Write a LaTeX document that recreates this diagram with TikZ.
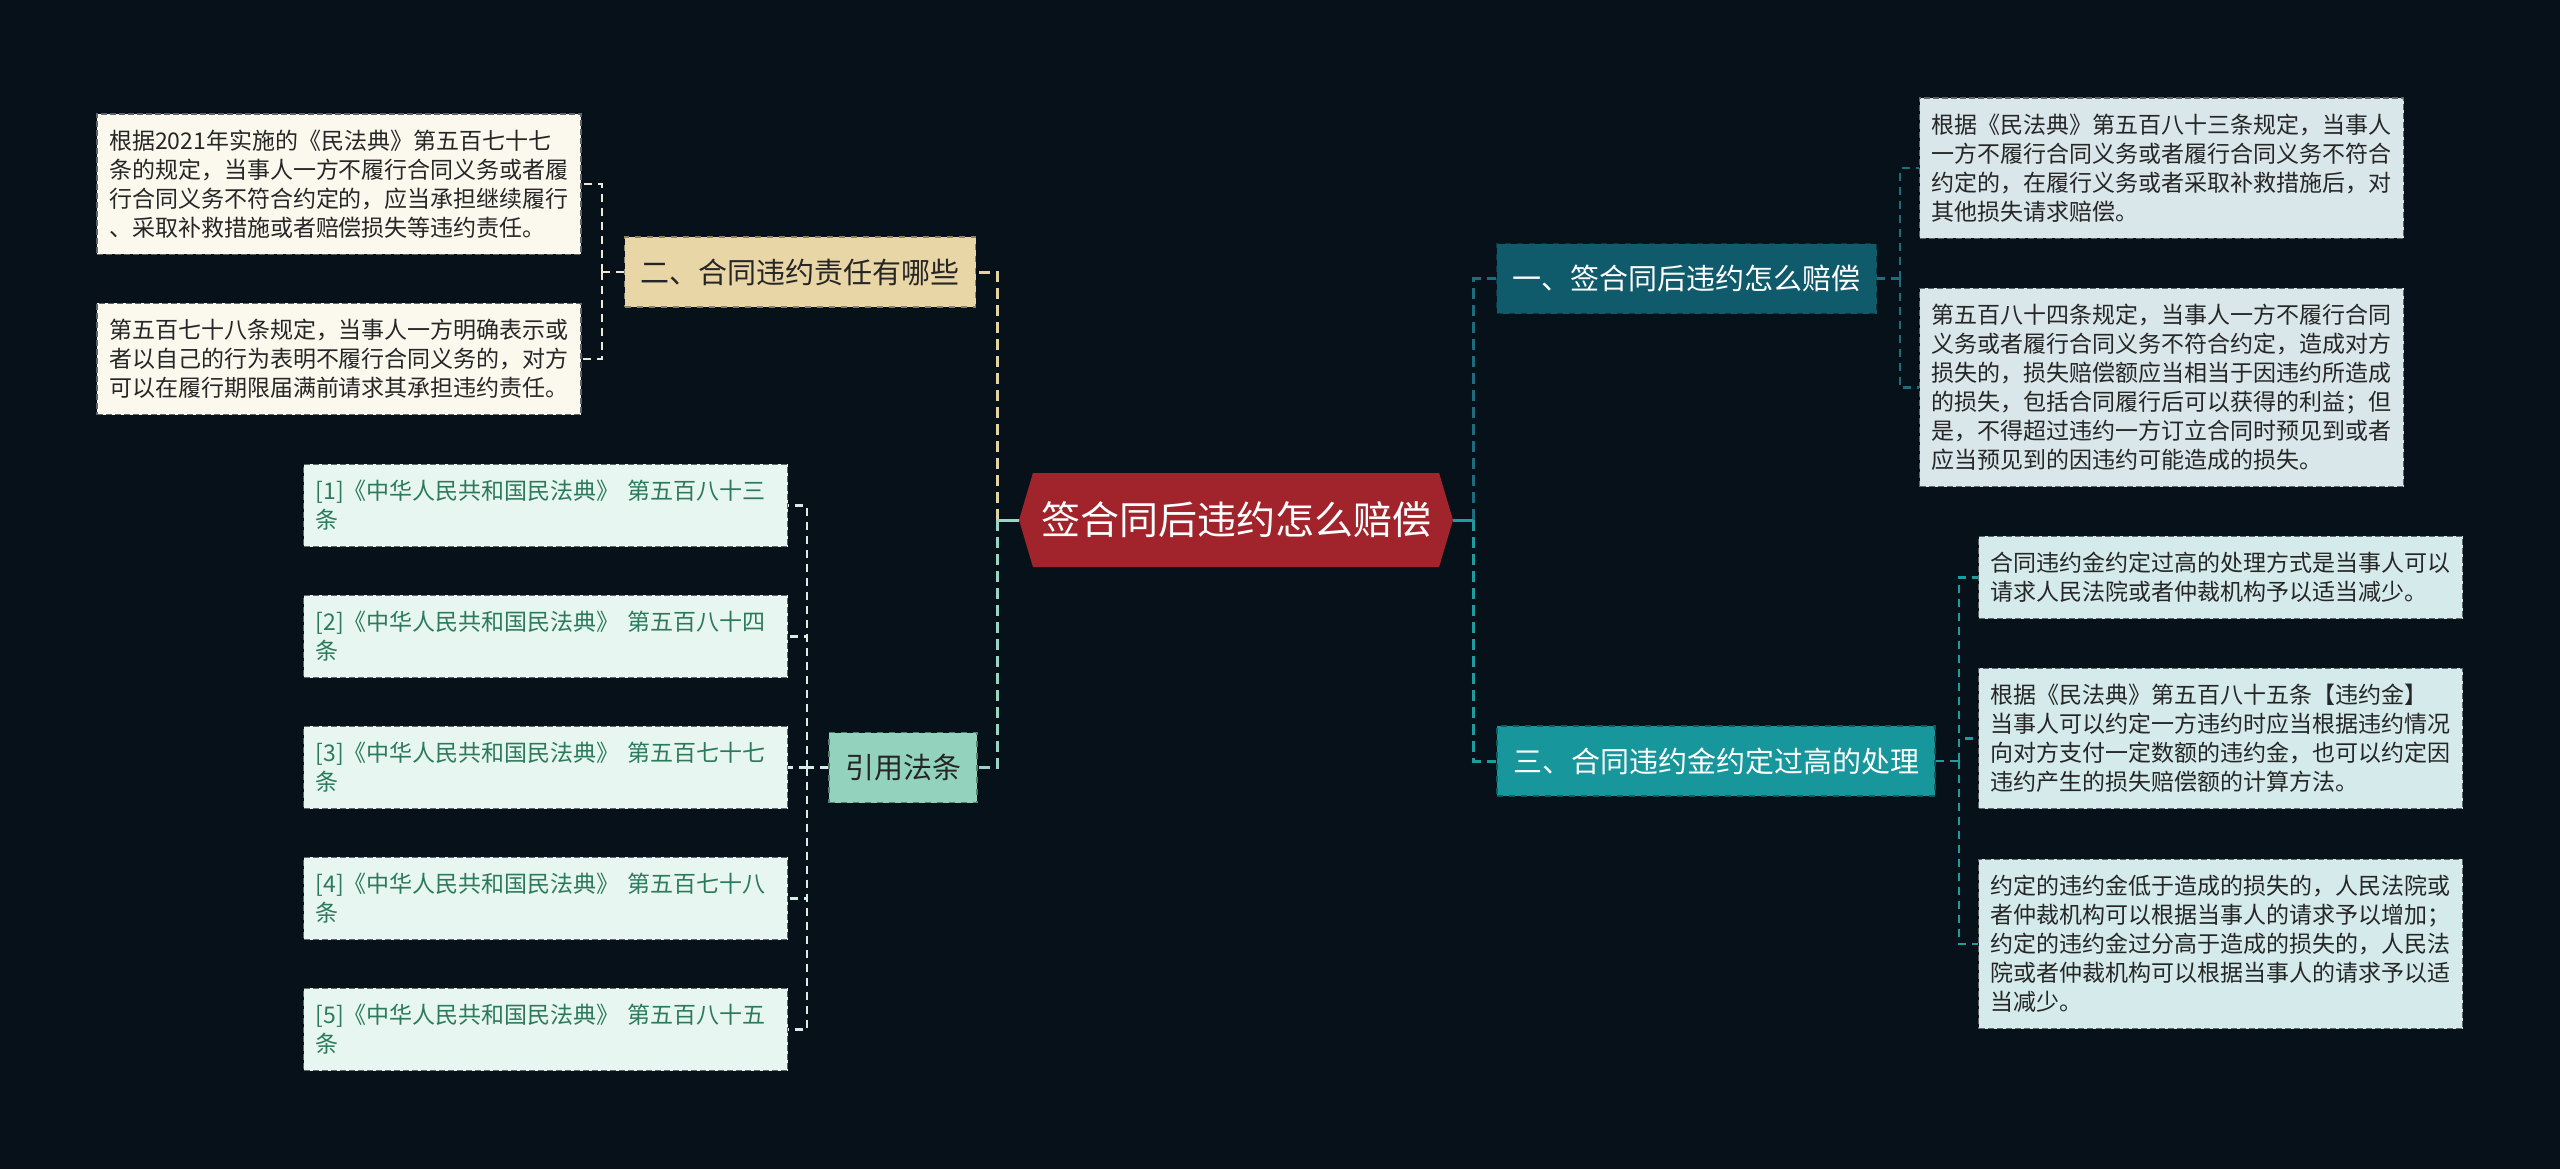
\documentclass[tikz,border=0pt]{standalone}
\usepackage{fontspec}
\setmainfont{Noto Sans CJK SC}
\usetikzlibrary{shapes.symbols}
\definecolor{grund}{HTML}{06111A}
\definecolor{rot}{HTML}{A1232B}
\definecolor{petrol}{HTML}{0F5B6C}
\definecolor{tuerkis}{HTML}{17969B}
\definecolor{sand}{HTML}{E8D6A6}
\definecolor{mint}{HTML}{93D2BC}
\definecolor{creme}{HTML}{FBF8EE}
\definecolor{eis}{HTML}{D9E6EA}
\definecolor{eist}{HTML}{D5EBEB}
\definecolor{minzl}{HTML}{E8F6F1}
\definecolor{gruen}{HTML}{2C7A5C}
\definecolor{rand}{HTML}{5E6468}
\definecolor{sandl}{HTML}{E3D2A2}
\definecolor{sandw}{HTML}{EEE8D6}
\definecolor{mintl}{HTML}{9BD4C3}
\definecolor{mintw}{HTML}{D6EDE5}
\definecolor{petroll}{HTML}{1F6C7E}
\definecolor{tuerkisl}{HTML}{1E9C9F}
\tikzset{
  wurzel/.style={signal,signal to=east and west,signal pointer angle=147,fill=rot,text=white,minimum width=217pt,minimum height=47pt,inner sep=0pt,font=\fontsize{19.5}{23}\selectfont},
  ast/.style={draw=#1!60!black,fill=#1,dashed,line width=0.6pt,inner xsep=8pt,minimum height=35pt,font=\fontsize{14.5}{17}\selectfont},
  blatt/.style={draw=rand,fill=#1,dash pattern=on 3pt off 1.5pt,line width=0.7pt,text width=230pt,align=left,inner xsep=6pt,inner ysep=8pt,text=black!85,font=\fontsize{11.5}{14.5}\selectfont},
  verb/.style={#1,dash pattern=on 5.5pt off 3pt,line width=1.5pt},
  klammer/.style={#1,dash pattern=on 4pt off 3pt,line width=1.1pt},
  stiel/.style={#1,line width=1.5pt},
}
\begin{document}
\begin{tikzpicture}[x=0.5pt,y=-0.5pt]
  \fill[grund] (0,0) rectangle (2560,1169);
  \node[wurzel] (root) at (1236,520) {签合同后违约怎么赔偿};
  \node[ast=sand,text=black!85] (b2) at (800,272) {二、合同违约责任有哪些};
  \node[ast=mint,text=black!85] (cite) at (903,767.5) {引用法条};
  \node[ast=petrol,text=white] (b1) at (1686.5,278.5) {一、签合同后违约怎么赔偿};
  \node[ast=tuerkis,text=white] (b3) at (1716,761) {三、合同违约金约定过高的处理};
  \node[blatt=creme] (l1) at (339,184) {根据2021年实施的《民法典》第五百七十七\\条的规定，当事人一方不履行合同义务或者履\\行合同义务不符合约定的，应当承担继续履行\\、采取补救措施或者赔偿损失等违约责任。};
  \node[blatt=creme] (l2) at (339,359) {第五百七十八条规定，当事人一方明确表示或\\者以自己的行为表明不履行合同义务的，对方\\可以在履行期限届满前请求其承担违约责任。};
  \node[blatt=minzl,text=gruen] (r1) at (545.5,505.5) {[1]《中华人民共和国民法典》 第五百八十三\\条};
  \node[blatt=minzl,text=gruen] (r2) at (545.5,636.5) {[2]《中华人民共和国民法典》 第五百八十四\\条};
  \node[blatt=minzl,text=gruen] (r3) at (545.5,767.5) {[3]《中华人民共和国民法典》 第五百七十七\\条};
  \node[blatt=minzl,text=gruen] (r4) at (545.5,898.5) {[4]《中华人民共和国民法典》 第五百七十八\\条};
  \node[blatt=minzl,text=gruen] (r5) at (545.5,1029.5) {[5]《中华人民共和国民法典》 第五百八十五\\条};
  \node[blatt=eis] (a1) at (2161.5,168) {根据《民法典》第五百八十三条规定，当事人\\一方不履行合同义务或者履行合同义务不符合\\约定的，在履行义务或者采取补救措施后，对\\其他损失请求赔偿。};
  \node[blatt=eis] (a2) at (2161.5,387.5) {第五百八十四条规定，当事人一方不履行合同\\义务或者履行合同义务不符合约定，造成对方\\损失的，损失赔偿额应当相当于因违约所造成\\的损失，包括合同履行后可以获得的利益；但\\是，不得超过违约一方订立合同时预见到或者\\应当预见到的因违约可能造成的损失。};
  \node[blatt=eist] (c1) at (2220.5,577.5) {合同违约金约定过高的处理方式是当事人可以\\请求人民法院或者仲裁机构予以适当减少。};
  \node[blatt=eist] (c2) at (2220.5,738.5) {根据《民法典》第五百八十五条【违约金】\\当事人可以约定一方违约时应当根据违约情况\\向对方支付一定数额的违约金，也可以约定因\\违约产生的损失赔偿额的计算方法。};
  \node[blatt=eist] (c3) at (2220.5,944) {约定的违约金低于造成的损失的，人民法院或\\者仲裁机构可以根据当事人的请求予以增加；\\约定的违约金过分高于造成的损失的，人民法\\院或者仲裁机构可以根据当事人的请求予以适\\当减少。};
  \coordinate (jl) at (997,520);
  \coordinate (jr) at (1473,520);
  \coordinate (j2) at (602,272);
  \coordinate (jc) at (807,767.5);
  \coordinate (j1) at (1900,278.5);
  \coordinate (j3) at (1959,761);
  \draw[verb=sandl] (jl) |- (b2.east);
  \draw[verb=mintl] (jl) |- (cite.east);
  \draw[stiel=mintl] (root.west) -- (jl);
  \draw[verb=petroll] (jr) |- (b1.west);
  \draw[verb=tuerkisl] (jr) |- (b3.west);
  \draw[stiel=tuerkisl] (root.east) -- (jr);
  \draw[klammer=sandw] (b2.west) -- (j2);
  \draw[klammer=sandw] (j2) |- (l1.east);
  \draw[klammer=sandw] (j2) |- (l2.east);
  \draw[klammer=mintw] (cite.west) -- (jc);
  \draw[klammer=mintw] (jc) |- (r1.east);
  \draw[klammer=mintw] (jc) |- (r2.east);
  \draw[klammer=mintw] (jc) |- (r3.east);
  \draw[klammer=mintw] (jc) |- (r4.east);
  \draw[klammer=mintw] (jc) |- (r5.east);
  \draw[klammer=petroll] (b1.east) -- (j1);
  \draw[klammer=petroll] (j1) |- (a1.west);
  \draw[klammer=petroll] (j1) |- (a2.west);
  \draw[klammer=tuerkisl] (b3.east) -- (j3);
  \draw[klammer=tuerkisl] (j3) |- (c1.west);
  \draw[klammer=tuerkisl] (j3) |- (c2.west);
  \draw[klammer=tuerkisl] (j3) |- (c3.west);
\end{tikzpicture}
\end{document}
